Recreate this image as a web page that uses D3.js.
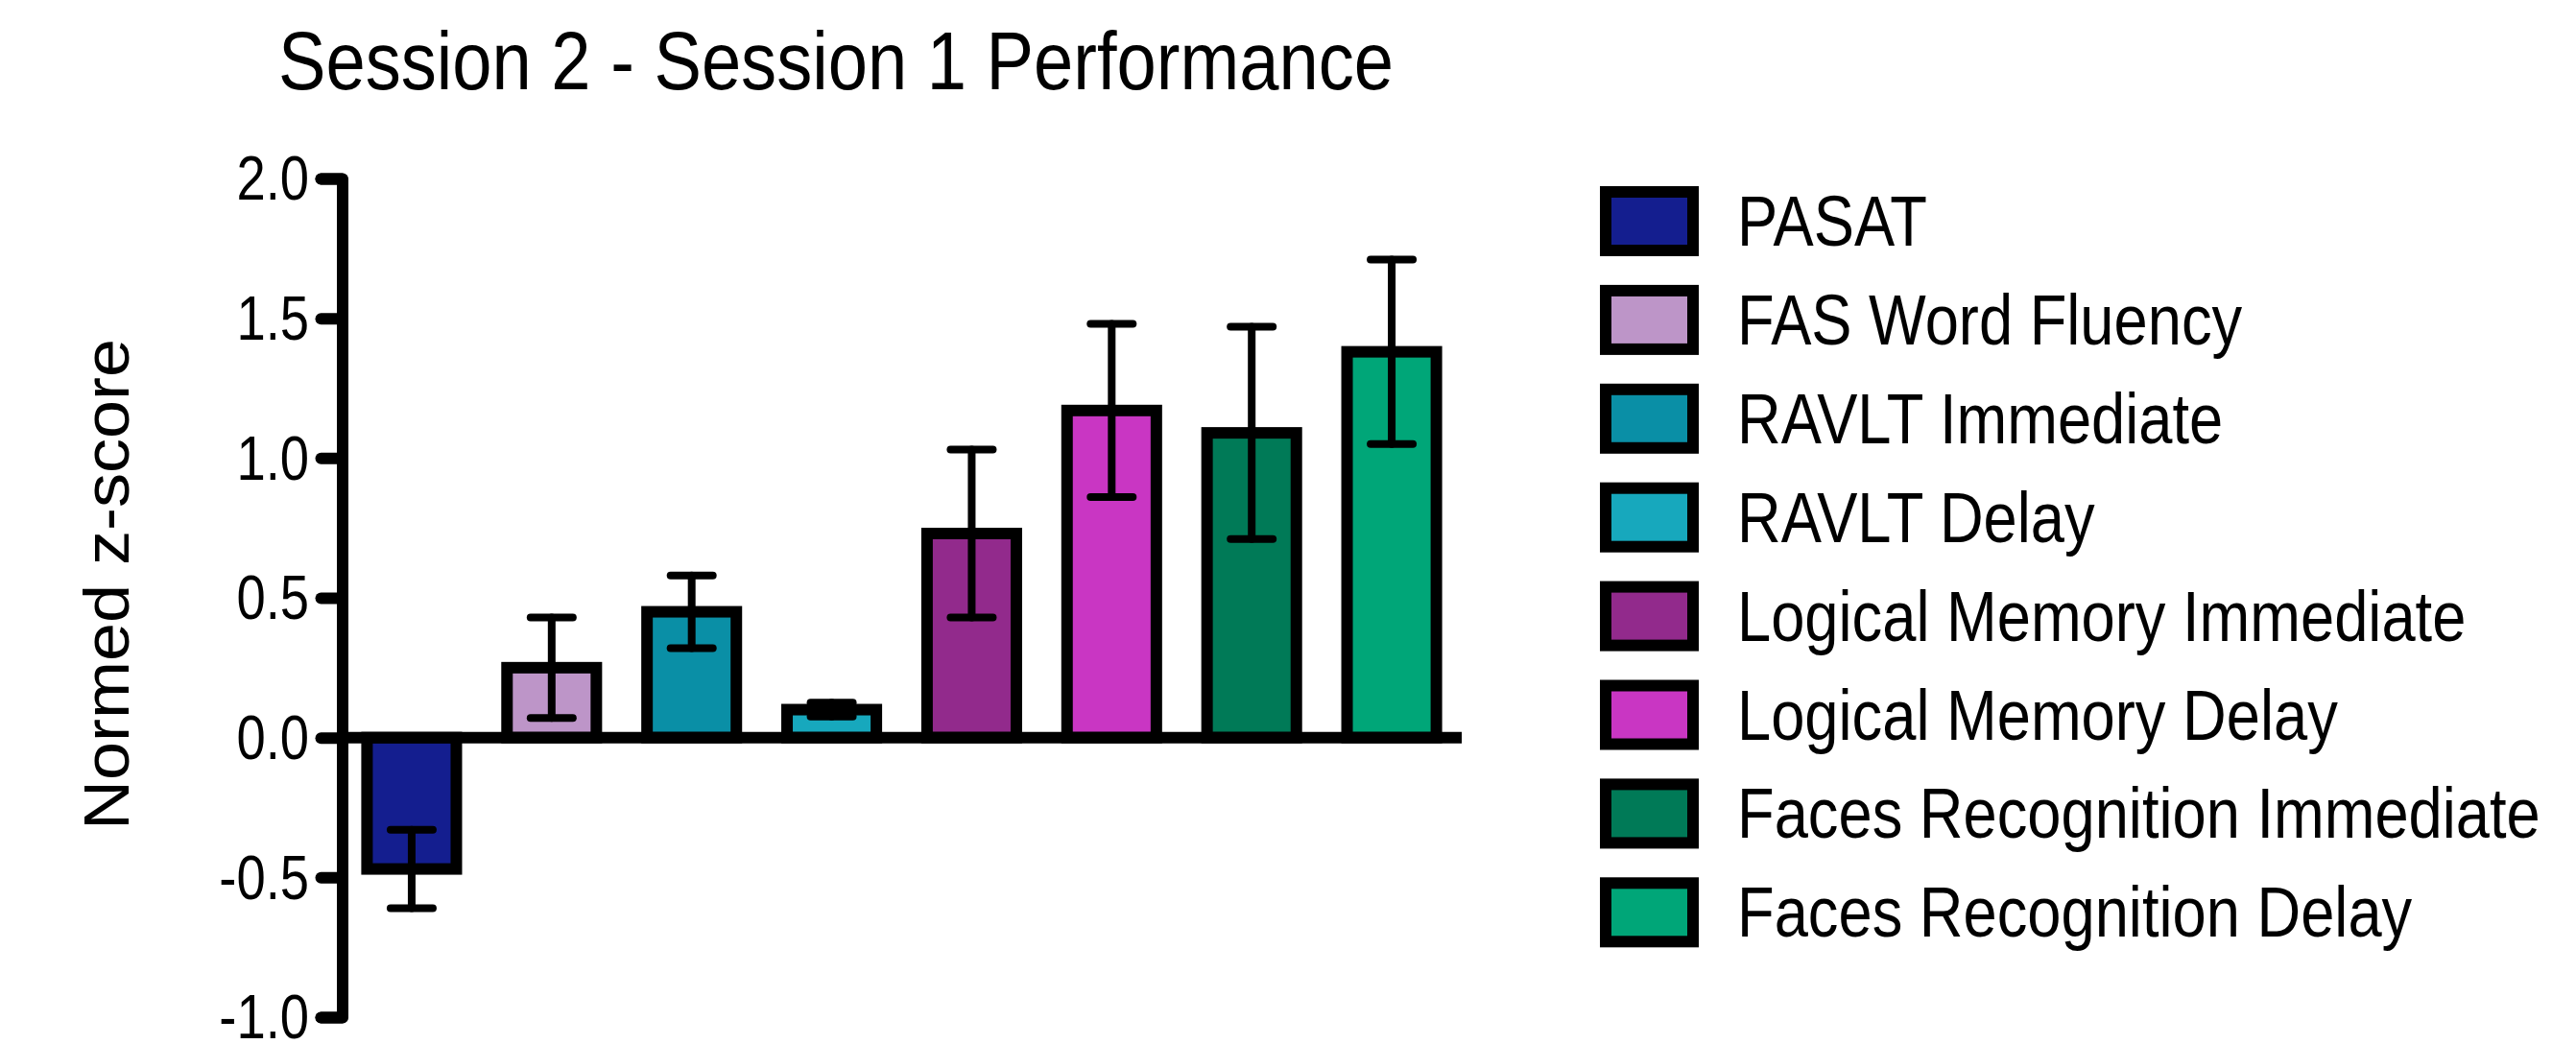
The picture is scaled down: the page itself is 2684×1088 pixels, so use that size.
<!DOCTYPE html>
<html lang="en">
<head>
    <meta charset="UTF-8">
    <title>Session 2 - Session 1 Performance</title>
    <script src="https://d3js.org/d3.v7.min.js"></script>
    <style>
        body { margin: 0; background: #fff; }
        text { font-family: "Liberation Sans", Arial, Helvetica, sans-serif; fill: #000; }
    </style>
</head>
<body>
    <svg id="chart" width="2684" height="1088"></svg>

    <script>
        // data
        var tests = ["PASAT", "FAS Word Fluency", "RAVLT Immediate", "RAVLT Delay",
                     "Logical Memory Immediate", "Logical Memory Delay",
                     "Faces Recognition Immediate", "Faces Recognition Delay"];
        var means = [-0.47, 0.25, 0.45, 0.10, 0.73, 1.17, 1.09, 1.38];
        var errors = [0.14, 0.18, 0.13, 0.025, 0.30, 0.31, 0.38, 0.33];
        var colors = ["#141e8f", "#bd95c8", "#0a8fa6", "#17a8bd",
                      "#922a8c", "#c936c3", "#007a57", "#00a678"];
        var yTicks = [-1.0, -0.5, 0.0, 0.5, 1.0, 1.5, 2.0];

        var svg = d3.select("#chart");

        // scales
        var x = d3.scaleBand()
            .domain(tests)
            .range([356, 1523])
            .paddingInner(0.362)
            .paddingOuter(0.181);

        var y = d3.scaleLinear()
            .domain([-1, 2])
            .range([1060, 186]);

        // title
        svg.append("text")
            .attr("x", 290)
            .attr("y", 93)
            .attr("font-size", "85px")
            .attr("textLength", 1162)
            .attr("lengthAdjust", "spacingAndGlyphs")
            .text("Session 2 - Session 1 Performance");

        // y axis label
        svg.append("text")
            .attr("transform", "translate(134,609) rotate(-90)")
            .attr("text-anchor", "middle")
            .attr("font-size", "66px")
            .attr("textLength", 512)
            .attr("lengthAdjust", "spacingAndGlyphs")
            .text("Normed z-score");

        // bars
        svg.selectAll(".bar")
            .data(tests)
            .enter().append("rect")
            .attr("class", "bar")
            .attr("x", d => x(d))
            .attr("width", x.bandwidth())
            .attr("y", (d, i) => Math.min(y(means[i]), y(0)))
            .attr("height", (d, i) => Math.abs(y(means[i]) - y(0)))
            .attr("fill", (d, i) => colors[i])
            .attr("stroke", "#000")
            .attr("stroke-width", 12);

        // error bars (both directions, drawn over the bars)
        var err = svg.selectAll(".err")
            .data(tests)
            .enter().append("g")
            .attr("class", "err")
            .attr("stroke", "#000")
            .attr("stroke-width", 8)
            .attr("stroke-linecap", "round");

        var cx = d => x(d) + x.bandwidth() / 2;
        var capHalf = 22;

        err.append("line")
            .attr("x1", cx).attr("x2", cx)
            .attr("y1", (d, i) => y(means[i] + errors[i]))
            .attr("y2", (d, i) => y(means[i] - errors[i]));

        err.append("line")
            .attr("x1", d => cx(d) - capHalf).attr("x2", d => cx(d) + capHalf)
            .attr("y1", (d, i) => y(means[i] + errors[i]))
            .attr("y2", (d, i) => y(means[i] + errors[i]));

        err.append("line")
            .attr("x1", d => cx(d) - capHalf).attr("x2", d => cx(d) + capHalf)
            .attr("y1", (d, i) => y(means[i] - errors[i]))
            .attr("y2", (d, i) => y(means[i] - errors[i]));

        // zero baseline
        svg.append("line")
            .attr("x1", x.range()[0])
            .attr("x2", x.range()[1])
            .attr("y1", y(0))
            .attr("y2", y(0))
            .attr("stroke", "#000")
            .attr("stroke-width", 12);

        // y axis
        var yAxis = svg.append("g")
            .attr("transform", "translate(356.5,0)")
            .call(d3.axisLeft(y)
                .tickValues(yTicks)
                .tickSize(22)
                .tickSizeOuter(22)
                .tickPadding(12)
                .tickFormat(d => d.toFixed(1)));

        yAxis.select(".domain")
            .attr("stroke-width", 12)
            .attr("stroke-linejoin", "round")
            .attr("stroke-linecap", "round");

        yAxis.selectAll(".tick line")
            .attr("stroke-width", 12)
            .attr("stroke-linecap", "round");

        yAxis.selectAll(".tick text")
            .attr("font-size", "64px")
            .attr("font-family", "Liberation Sans, Arial, sans-serif")
            .attr("fill", "#000")
            .attr("x", -34.5 / 0.85)
            .attr("dy", "0.34em")
            .attr("transform", "scale(0.85,1)");

        // legend
        var legend = svg.selectAll(".legend")
            .data(tests)
            .enter().append("g")
            .attr("class", "legend")
            .attr("transform", (d, i) => "translate(1673," + (200 + i * 102.9) + ")");

        legend.append("rect")
            .attr("width", 91)
            .attr("height", 61)
            .attr("fill", (d, i) => colors[i])
            .attr("stroke", "#000")
            .attr("stroke-width", 12);

        legend.append("text")
            .attr("transform", "translate(137,56) scale(0.855,1)")
            .attr("font-size", "74px")
            .text(d => d);
    </script>
</body>
</html>
